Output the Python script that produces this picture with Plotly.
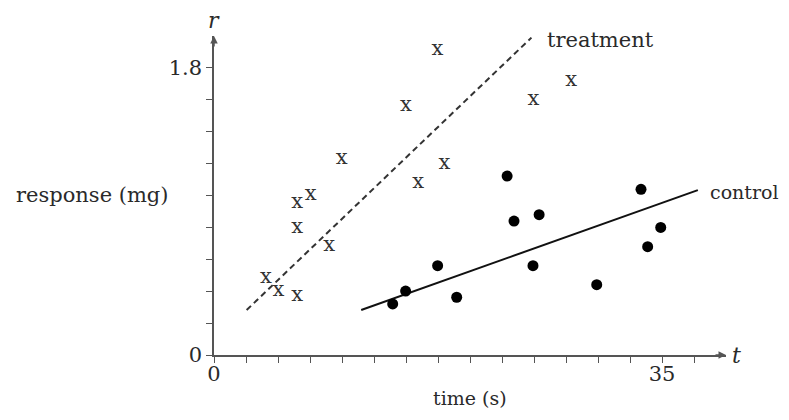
import plotly.graph_objects as go

# Treatment observations (plotted as "x")
treat_t = [9.98, 18.0, 15.96, 6.5, 7.55, 6.5, 9.0, 4.06, 5.03, 6.5, 17.45, 15.0, 24.95, 27.9]
treat_r = [1.233, 1.20, 1.08, 0.955, 1.003, 0.80, 0.683, 0.487, 0.403, 0.37, 1.917, 1.561, 1.60, 1.72]

# Control observations (dots)
ctrl_t = [13.96, 14.97, 17.47, 18.96, 22.9, 23.44, 25.4, 24.92, 29.9, 33.36, 33.88, 34.9]
ctrl_r = [0.32, 0.401, 0.56, 0.362, 1.122, 0.84, 0.88, 0.56, 0.441, 1.039, 0.679, 0.80]

# Fitted lines (endpoints)
treat_line_t = [2.55, 24.8]
treat_line_r = [0.282, 1.99]
ctrl_line_t = [11.5, 37.8]
ctrl_line_r = [0.282, 1.034]

# Axis ticks
x_ticks = [i * 2.5 for i in range(16)]
x_labels = ["0" if v == 0 else ("35" if v == 35 else "") for v in x_ticks]
y_ticks = [round(i * 0.2, 1) for i in range(10)]
y_labels = ["0" if v == 0 else ("1.8" if v == 1.8 else "") for v in y_ticks]

FONT = "DejaVu Serif"
AXC = "#555555"
TXT = "#2a2a2a"
FS = 21

W, H = 773, 404
L, T = 206, 28
PW, PH = 512, 319

fig = go.Figure()
fig.add_trace(go.Scatter(x=treat_line_t, y=treat_line_r, mode="lines",
                         line=dict(color="#333333", width=2, dash="6px,4px"),
                         showlegend=False, hoverinfo="skip"))
fig.add_trace(go.Scatter(x=ctrl_line_t, y=ctrl_line_r, mode="lines",
                         line=dict(color="#111111", width=2),
                         showlegend=False, hoverinfo="skip"))
fig.add_trace(go.Scatter(x=treat_t, y=treat_r, mode="text", text=["x"] * len(treat_t),
                         textposition="middle center",
                         textfont=dict(family=FONT, size=FS, color="#333333"),
                         showlegend=False, cliponaxis=False))
fig.add_trace(go.Scatter(x=ctrl_t, y=ctrl_r, mode="markers",
                         marker=dict(color="black", size=11),
                         showlegend=False, cliponaxis=False))

annotations = [
    dict(x=25.86, y=1.975, text="treatment", showarrow=False, xanchor="left", yanchor="middle",
         font=dict(family=FONT, size=FS, color=TXT)),
    dict(x=38.6, y=1.022, text="control", showarrow=False, xanchor="left", yanchor="middle",
         font=dict(family=FONT, size=19, color=TXT)),
    # arrow heads
    dict(x=40, y=0, ax=-12, ay=0, xref="x", yref="y", text="", showarrow=True,
         arrowhead=2, arrowsize=1, arrowwidth=1.5, arrowcolor=AXC),
    dict(x=0, y=2.0, ax=0, ay=12, xref="x", yref="y", text="", showarrow=True,
         arrowhead=2, arrowsize=1, arrowwidth=1.5, arrowcolor=AXC),
    dict(x=1.02, y=0, xref="paper", yref="paper", text="<i>t</i>", showarrow=False,
         xanchor="center", yanchor="middle", font=dict(family=FONT, size=FS + 1, color=TXT)),
    dict(x=0, y=1.05, xref="paper", yref="paper", text="<i>r</i>", showarrow=False,
         xanchor="center", yanchor="middle", font=dict(family=FONT, size=FS + 1, color=TXT)),
    dict(x=-0.238, y=0.502, xref="paper", yref="paper", text="response (mg)",
         showarrow=False, xanchor="center", yanchor="middle",
         font=dict(family=FONT, size=FS, color=TXT)),
    dict(x=0.5, y=-0.134, xref="paper", yref="paper", text="time (s)",
         showarrow=False, xanchor="center", yanchor="middle",
         font=dict(family=FONT, size=19, color=TXT)),
]

fig.update_layout(
    width=W, height=H,
    margin=dict(l=L, r=W - L - PW, t=T, b=H - T - PH),
    paper_bgcolor="white", plot_bgcolor="white",
    annotations=annotations,
    xaxis=dict(range=[0, 40], showgrid=False, zeroline=False, showline=True,
               linecolor=AXC, linewidth=1.5, ticks="outside", ticklen=6,
               tickcolor=AXC, tickwidth=1.2, tickvals=x_ticks, ticktext=x_labels,
               ticklabelstandoff=-7,
               tickfont=dict(family=FONT, size=FS, color=TXT), automargin=False),
    yaxis=dict(range=[0, 2.0], showgrid=False, zeroline=False, showline=True,
               linecolor=AXC, linewidth=1.5, ticks="outside", ticklen=6,
               tickcolor=AXC, tickwidth=1.2, tickvals=y_ticks, ticktext=y_labels,
               tickfont=dict(family=FONT, size=FS, color=TXT), automargin=False),
)

fig.write_html("out.html")
